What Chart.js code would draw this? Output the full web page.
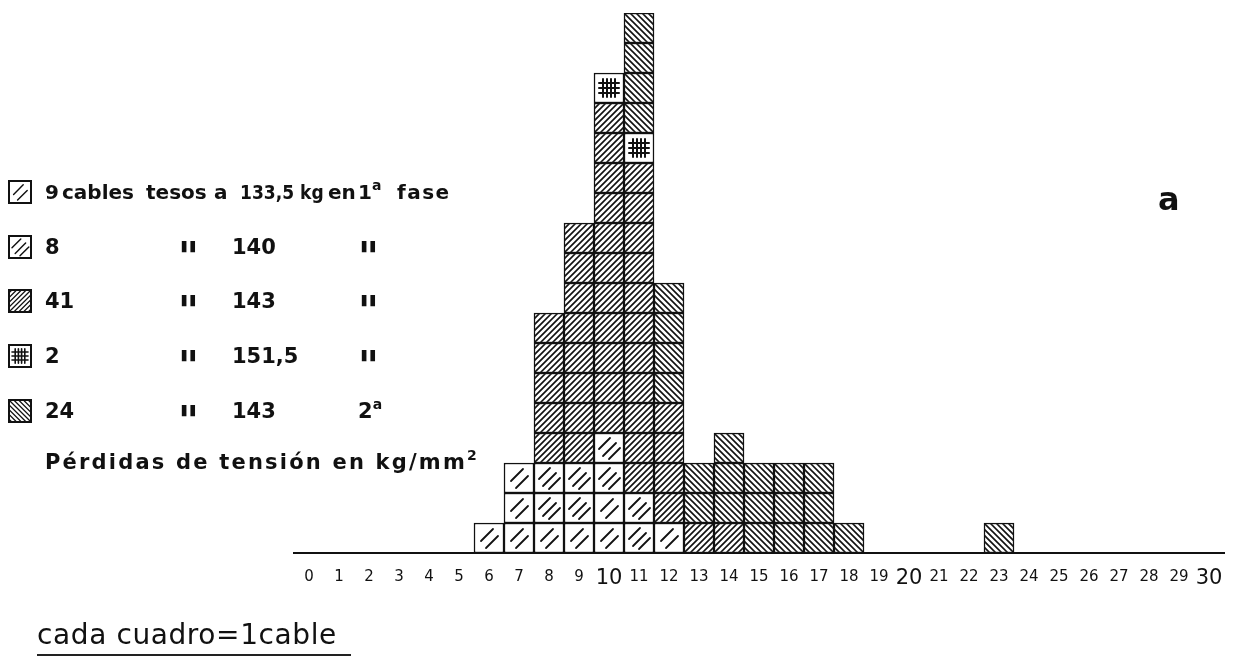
<!DOCTYPE html>
<html>
<head>
<meta charset="utf-8">
<script src="https://cdn.jsdelivr.net/npm/chart.js@4.4.1/dist/chart.umd.min.js"></script>
<style>
  html, body { margin: 0; padding: 0; background: #fff; }
  #wrap { position: relative; width: 1250px; height: 658px; overflow: hidden;
          font-family: 'DejaVu Sans', sans-serif; color: #111; }
  #chart { position: absolute; left: 0; top: 0; }
  .row { position: absolute; left: 0; width: 560px; height: 30px; font-weight: bold; font-size: 21px; }
  .row span { position: absolute; top: 0; line-height: 30px; white-space: nowrap; }
  .row canvas { position: absolute; left: 8px; top: 3px; }
  .row sup { font-size: 14px; vertical-align: 9px; line-height: 0; }
  .row.first { font-size: 20px; }
  .row .cond { font-family: 'DejaVu Sans Condensed', 'DejaVu Sans', sans-serif; font-size: 19px; }
  .dq { font-size: 40px; margin-top: 10px; }
  #mark { position: absolute; left: 1158px; top: 180px; font-size: 32px; font-weight: bold; }
  #note { position: absolute; left: 37px; top: 616px; font-size: 28px; padding-right: 14px;
          letter-spacing: 0.6px; border-bottom: 2px solid #222; line-height: 38px; }
</style>
</head>
<body>
<div id="wrap">
  <canvas id="chart" width="1250" height="658"></canvas>

  <div class="row first" style="top:177px"><canvas class="ico" data-k="0" width="24" height="24"></canvas>
    <span style="left:45px">9</span><span style="left:62px">cables</span><span style="left:146px">tesos</span>
    <span style="left:214px">a</span><span class="cond" style="left:240px">133,5 kg</span><span style="left:328px">en</span>
    <span style="left:358px">1<sup>a</sup></span><span style="left:397px; letter-spacing:1.5px">fase</span></div>
  <div class="row" style="top:232px"><canvas class="ico" data-k="1" width="24" height="24"></canvas>
    <span style="left:45px">8</span><span class="dq" style="left:178px">"</span>
    <span style="left:232px">140</span><span class="dq" style="left:358px">"</span></div>
  <div class="row" style="top:286px"><canvas class="ico" data-k="2" width="24" height="24"></canvas>
    <span style="left:45px">41</span><span class="dq" style="left:178px">"</span>
    <span style="left:232px">143</span><span class="dq" style="left:358px">"</span></div>
  <div class="row" style="top:341px"><canvas class="ico" data-k="3" width="24" height="24"></canvas>
    <span style="left:45px">2</span><span class="dq" style="left:178px">"</span>
    <span style="left:232px">151,5</span><span class="dq" style="left:358px">"</span></div>
  <div class="row" style="top:396px"><canvas class="ico" data-k="4" width="24" height="24"></canvas>
    <span style="left:45px">24</span><span class="dq" style="left:178px">"</span>
    <span style="left:232px">143</span><span style="left:358px">2<sup>a</sup></span></div>
  <div class="row" style="top:447px">
    <span style="left:45px; letter-spacing:2.2px">Pérdidas de tensión en kg/mm<sup>2</sup></span></div>

  <div id="mark">a</div>
  <div id="note">cada cuadro=1cable</div>
</div>

<script>
const FONT = "'DejaVu Sans', sans-serif";
const INK  = '#111';

// pérdidas de tensión, kg/mm2 (0 … 30)
const ticks = ['0','1','2','3','4','5','6','7','8','9','10','11','12','13','14','15',
               '16','17','18','19','20','21','22','23','24','25','26','27','28','29','30'];

// cables per column, one array per group (stacked bottom to top in this order)
const tesos1335 = [0,0,0,0,0,0,1,3,1,1,2,0,1,0,0,0,0,0,0,0,0,0,0,0,0,0,0,0,0,0,0];
const tesos140  = [0,0,0,0,0,0,0,0,2,2,2,2,0,0,0,0,0,0,0,0,0,0,0,0,0,0,0,0,0,0,0];
const tesos143  = [0,0,0,0,0,0,0,0,5,8,11,11,4,1,1,0,0,0,0,0,0,0,0,0,0,0,0,0,0,0,0];
const tesos1515 = [0,0,0,0,0,0,0,0,0,0,1,1,0,0,0,0,0,0,0,0,0,0,0,0,0,0,0,0,0,0,0];
const tesos143b = [0,0,0,0,0,0,0,0,0,0,0,4,4,2,3,3,3,3,1,0,0,0,0,1,0,0,0,0,0,0,0];

const groups = [tesos1335, tesos140, tesos143, tesos1515, tesos143b];

// hatch of one 30x30 square
function drawHatch(g, kind) {
  g.strokeStyle = INK; g.lineCap = 'round';
  const seg = (x1, y1, x2, y2) => { g.beginPath(); g.moveTo(x1, y1); g.lineTo(x2, y2); g.stroke(); };
  if (kind === 0) {
    g.lineWidth = 1.8; seg(7, 18, 19, 6); seg(12, 25, 24, 13);
  } else if (kind === 1) {
    g.lineWidth = 1.8; seg(5, 16, 16, 5); seg(9, 23, 22, 10); seg(15, 26, 26, 15);
  } else if (kind === 2) {
    g.lineWidth = 1.6; for (let k = -30; k <= 60; k += 6) seg(k, 30, k + 30, 0);
  } else if (kind === 3) {
    g.lineWidth = 2;
    [9, 13, 17, 21].forEach(x => seg(x, 6, x, 24));
    [10, 15, 20].forEach(y => seg(5, y, 25, y));
  } else {
    g.lineWidth = 1.6; for (let k = -30; k <= 60; k += 6) seg(k, 0, k + 30, 30);
  }
}

const cv = document.getElementById('chart');
const ctx = cv.getContext('2d');
const patterns = [0, 1, 2, 3, 4].map(k => {
  const t = document.createElement('canvas');
  t.width = 30; t.height = 30;
  const g = t.getContext('2d');
  g.fillStyle = '#fff'; g.fillRect(0, 0, 30, 30);
  drawHatch(g, k);
  const p = ctx.createPattern(t, 'repeat');
  p.setTransform(new DOMMatrix([1, 0, 0, 1, 24, 13]));   // line the tiles up with the squares
  return p;
});

// legend icons
document.querySelectorAll('.ico').forEach(c => {
  const g = c.getContext('2d');
  g.fillStyle = '#fff'; g.fillRect(0, 0, 24, 24);
  g.save(); g.scale(0.8, 0.8); drawHatch(g, +c.dataset.k); g.restore();
  g.strokeStyle = INK; g.lineWidth = 2; g.strokeRect(1, 1, 22, 22);
});

// one stacked dataset per row of squares
const stacks = ticks.map((_, i) => {
  const s = [];
  groups.forEach((arr, k) => { for (let n = 0; n < arr[i]; n++) s.push(k); });
  return s;
});
const rows = Math.max(...stacks.map(s => s.length));
const datasets = [];
for (let r = 0; r < rows; r++) {
  datasets.push({
    data: stacks.map(s => s.length > r ? 1 : null),
    backgroundColor: stacks.map(s => s.length > r ? patterns[s[r]] : 'transparent'),
    borderColor: INK, borderWidth: 1.5, borderSkipped: false,
    barPercentage: 1, categoryPercentage: 1,
  });
}

const BIG = [10, 20, 30];

new Chart(cv, {
  type: 'bar',
  data: { labels: ticks, datasets },
  options: {
    responsive: false,
    animation: false,
    events: [],
    layout: { padding: { left: 294, right: 26, top: 13, bottom: 55 } },
    plugins: { legend: { display: false }, tooltip: { enabled: false } },
    scales: {
      x: {
        stacked: true,
        grid: { display: false, drawTicks: false },
        border: { display: true, color: INK, width: 2 },
        ticks: {
          color: INK, padding: 15, autoSkip: false, maxRotation: 0,
          font: c => BIG.includes(c.index)
            ? { family: FONT, size: 21, lineHeight: 1.05 }
            : { family: FONT, size: 15, lineHeight: 1.2 }
        },
        afterFit: s => { s.height = 50; }
      },
      y: { stacked: true, display: false, min: 0, max: 18 }
    }
  }
});
</script>
</body>
</html>
